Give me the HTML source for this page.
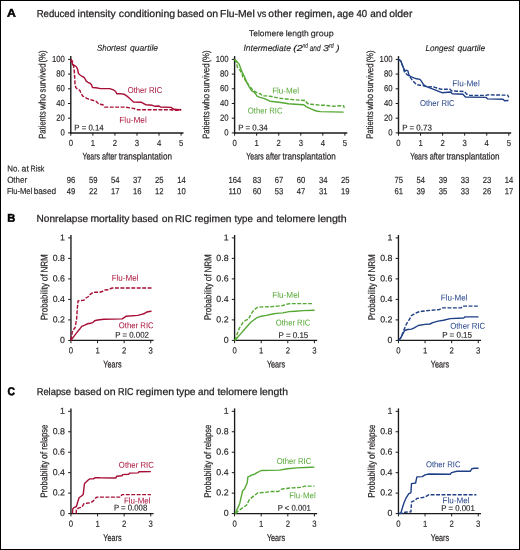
<!DOCTYPE html>
<html><head><meta charset="utf-8"><style>
html,body{margin:0;padding:0;background:#fff;}
body{width:520px;height:550px;overflow:hidden;}
svg{display:block;font-family:"Liberation Sans",sans-serif;will-change:transform;}
</style></head><body>
<svg width="520" height="550" viewBox="0 0 520 550">
<rect x="0" y="0" width="520" height="550" fill="#fff"/>
<text x="7.09" y="16.70" font-size="11.4" fill="#000" stroke="#000" stroke-width="0.5" font-weight="bold" textLength="8.84" lengthAdjust="spacingAndGlyphs" transform="rotate(0.05 11.51 16.70)">A</text>
<text x="7.28" y="221.70" font-size="11.4" fill="#000" stroke="#000" stroke-width="0.5" font-weight="bold" textLength="8.05" lengthAdjust="spacingAndGlyphs" transform="rotate(0.05 11.30 221.70)">B</text>
<text x="7.58" y="395.20" font-size="11.4" fill="#000" stroke="#000" stroke-width="0.5" font-weight="bold" textLength="7.50" lengthAdjust="spacingAndGlyphs" transform="rotate(0.05 11.33 395.20)">C</text>
<text x="36.63" y="17.10" font-size="10.1" fill="#231f20" stroke="#231f20" stroke-width="0.25" textLength="38.42" lengthAdjust="spacingAndGlyphs" transform="rotate(0.05 55.84 17.10)">Reduced</text>
<text x="77.63" y="17.10" font-size="10.1" fill="#231f20" stroke="#231f20" stroke-width="0.25" textLength="38.06" lengthAdjust="spacingAndGlyphs" transform="rotate(0.05 96.66 17.10)">intensity</text>
<text x="118.88" y="17.10" font-size="10.1" fill="#231f20" stroke="#231f20" stroke-width="0.25" textLength="56.23" lengthAdjust="spacingAndGlyphs" transform="rotate(0.05 147.00 17.10)">conditioning</text>
<text x="177.16" y="17.10" font-size="10.1" fill="#231f20" stroke="#231f20" stroke-width="0.25" textLength="26.77" lengthAdjust="spacingAndGlyphs" transform="rotate(0.05 190.55 17.10)">based</text>
<text x="206.48" y="17.10" font-size="10.1" fill="#231f20" stroke="#231f20" stroke-width="0.25" textLength="11.73" lengthAdjust="spacingAndGlyphs" transform="rotate(0.05 212.34 17.10)">on</text>
<text x="220.07" y="17.10" font-size="10.1" fill="#231f20" stroke="#231f20" stroke-width="0.25" textLength="34.65" lengthAdjust="spacingAndGlyphs" transform="rotate(0.05 237.39 17.10)">Flu-Mel</text>
<text x="257.15" y="17.10" font-size="10.1" fill="#231f20" stroke="#231f20" stroke-width="0.25" textLength="9.06" lengthAdjust="spacingAndGlyphs" transform="rotate(0.05 261.69 17.10)">vs</text>
<text x="268.39" y="17.10" font-size="10.1" fill="#231f20" stroke="#231f20" stroke-width="0.25" textLength="23.62" lengthAdjust="spacingAndGlyphs" transform="rotate(0.05 280.19 17.10)">other</text>
<text x="295.13" y="17.10" font-size="10.1" fill="#231f20" stroke="#231f20" stroke-width="0.25" textLength="40.05" lengthAdjust="spacingAndGlyphs" transform="rotate(0.05 315.16 17.10)">regimen,</text>
<text x="337.00" y="17.10" font-size="10.1" fill="#231f20" stroke="#231f20" stroke-width="0.25" textLength="16.79" lengthAdjust="spacingAndGlyphs" transform="rotate(0.05 345.39 17.10)">age</text>
<text x="356.41" y="17.10" font-size="10.1" fill="#231f20" stroke="#231f20" stroke-width="0.25" textLength="10.65" lengthAdjust="spacingAndGlyphs" transform="rotate(0.05 361.73 17.10)">40</text>
<text x="370.30" y="17.10" font-size="10.1" fill="#231f20" stroke="#231f20" stroke-width="0.25" textLength="16.69" lengthAdjust="spacingAndGlyphs" transform="rotate(0.05 378.64 17.10)">and</text>
<text x="389.18" y="17.10" font-size="10.1" fill="#231f20" stroke="#231f20" stroke-width="0.25" textLength="23.21" lengthAdjust="spacingAndGlyphs" transform="rotate(0.05 400.79 17.10)">older</text>
<text x="36.59" y="221.90" font-size="10.0" fill="#231f20" stroke="#231f20" stroke-width="0.25" textLength="51.55" lengthAdjust="spacingAndGlyphs" transform="rotate(0.05 62.37 221.90)">Nonrelapse</text>
<text x="90.43" y="221.90" font-size="10.0" fill="#231f20" stroke="#231f20" stroke-width="0.25" textLength="39.06" lengthAdjust="spacingAndGlyphs" transform="rotate(0.05 109.96 221.90)">mortality</text>
<text x="131.87" y="221.90" font-size="10.0" fill="#231f20" stroke="#231f20" stroke-width="0.25" textLength="26.35" lengthAdjust="spacingAndGlyphs" transform="rotate(0.05 145.05 221.90)">based</text>
<text x="161.89" y="221.90" font-size="10.0" fill="#231f20" stroke="#231f20" stroke-width="0.25" textLength="11.40" lengthAdjust="spacingAndGlyphs" transform="rotate(0.05 167.59 221.90)">on</text>
<text x="175.02" y="221.90" font-size="10.0" fill="#231f20" stroke="#231f20" stroke-width="0.25" textLength="16.85" lengthAdjust="spacingAndGlyphs" transform="rotate(0.05 183.44 221.90)">RIC</text>
<text x="194.43" y="221.90" font-size="10.0" fill="#231f20" stroke="#231f20" stroke-width="0.25" textLength="37.17" lengthAdjust="spacingAndGlyphs" transform="rotate(0.05 213.02 221.90)">regimen</text>
<text x="234.55" y="221.90" font-size="10.0" fill="#231f20" stroke="#231f20" stroke-width="0.25" textLength="18.39" lengthAdjust="spacingAndGlyphs" transform="rotate(0.05 243.75 221.90)">type</text>
<text x="256.41" y="221.90" font-size="10.0" fill="#231f20" stroke="#231f20" stroke-width="0.25" textLength="16.47" lengthAdjust="spacingAndGlyphs" transform="rotate(0.05 264.64 221.90)">and</text>
<text x="276.15" y="221.90" font-size="10.0" fill="#231f20" stroke="#231f20" stroke-width="0.25" textLength="39.31" lengthAdjust="spacingAndGlyphs" transform="rotate(0.05 295.81 221.90)">telomere</text>
<text x="317.81" y="221.90" font-size="10.0" fill="#231f20" stroke="#231f20" stroke-width="0.25" textLength="28.87" lengthAdjust="spacingAndGlyphs" transform="rotate(0.05 332.25 221.90)">length</text>
<text x="36.65" y="395.00" font-size="10.0" fill="#231f20" stroke="#231f20" stroke-width="0.25" textLength="34.36" lengthAdjust="spacingAndGlyphs" transform="rotate(0.05 53.83 395.00)">Relapse</text>
<text x="74.25" y="395.00" font-size="10.0" fill="#231f20" stroke="#231f20" stroke-width="0.25" textLength="27.19" lengthAdjust="spacingAndGlyphs" transform="rotate(0.05 87.85 395.00)">based</text>
<text x="103.78" y="395.00" font-size="10.0" fill="#231f20" stroke="#231f20" stroke-width="0.25" textLength="11.73" lengthAdjust="spacingAndGlyphs" transform="rotate(0.05 109.64 395.00)">on</text>
<text x="118.08" y="395.00" font-size="10.0" fill="#231f20" stroke="#231f20" stroke-width="0.25" textLength="15.56" lengthAdjust="spacingAndGlyphs" transform="rotate(0.05 125.86 395.00)">RIC</text>
<text x="135.91" y="395.00" font-size="10.0" fill="#231f20" stroke="#231f20" stroke-width="0.25" textLength="38.31" lengthAdjust="spacingAndGlyphs" transform="rotate(0.05 155.07 395.00)">regimen</text>
<text x="176.15" y="395.00" font-size="10.0" fill="#231f20" stroke="#231f20" stroke-width="0.25" textLength="19.42" lengthAdjust="spacingAndGlyphs" transform="rotate(0.05 185.85 395.00)">type</text>
<text x="198.01" y="395.00" font-size="10.0" fill="#231f20" stroke="#231f20" stroke-width="0.25" textLength="16.47" lengthAdjust="spacingAndGlyphs" transform="rotate(0.05 206.24 395.00)">and</text>
<text x="217.45" y="395.00" font-size="10.0" fill="#231f20" stroke="#231f20" stroke-width="0.25" textLength="40.03" lengthAdjust="spacingAndGlyphs" transform="rotate(0.05 237.46 395.00)">telomere</text>
<text x="259.73" y="395.00" font-size="10.0" fill="#231f20" stroke="#231f20" stroke-width="0.25" textLength="28.24" lengthAdjust="spacingAndGlyphs" transform="rotate(0.05 273.85 395.00)">length</text>
<text x="249.03" y="36.20" font-size="8.6" fill="#231f20" stroke="#231f20" stroke-width="0.15" textLength="34.67" lengthAdjust="spacingAndGlyphs" transform="rotate(0.05 266.37 36.20)">Telomere</text>
<text x="285.65" y="36.20" font-size="8.6" fill="#231f20" stroke="#231f20" stroke-width="0.15" textLength="23.20" lengthAdjust="spacingAndGlyphs" transform="rotate(0.05 297.25 36.20)">length</text>
<text x="310.84" y="36.20" font-size="8.6" fill="#231f20" stroke="#231f20" stroke-width="0.15" textLength="22.84" lengthAdjust="spacingAndGlyphs" transform="rotate(0.05 322.26 36.20)">group</text>
<text x="96.96" y="50.80" font-size="8.6" fill="#231f20" stroke="#231f20" stroke-width="0.15" font-style="italic" textLength="29.55" lengthAdjust="spacingAndGlyphs" transform="rotate(0.05 111.74 50.80)">Shortest</text>
<text x="130.10" y="50.80" font-size="8.6" fill="#231f20" stroke="#231f20" stroke-width="0.15" font-style="italic" textLength="28.00" lengthAdjust="spacingAndGlyphs" transform="rotate(0.05 144.10 50.80)">quartile</text>
<text x="425.56" y="51.00" font-size="8.6" fill="#231f20" stroke="#231f20" stroke-width="0.15" font-style="italic" textLength="28.75" lengthAdjust="spacingAndGlyphs" transform="rotate(0.05 439.93 51.00)">Longest</text>
<text x="457.50" y="51.00" font-size="8.6" fill="#231f20" stroke="#231f20" stroke-width="0.15" font-style="italic" textLength="27.69" lengthAdjust="spacingAndGlyphs" transform="rotate(0.05 471.35 51.00)">quartile</text>
<text x="243.46" y="50.90" font-size="8.6" fill="#231f20" stroke="#231f20" stroke-width="0.15" font-style="italic" textLength="47.43" lengthAdjust="spacingAndGlyphs" transform="rotate(0.05 267.17 50.90)">Intermediate</text>
<text x="293.22" y="50.90" font-size="8.6" fill="#231f20" stroke="#231f20" stroke-width="0.15" font-style="italic" textLength="9.43" lengthAdjust="spacingAndGlyphs" transform="rotate(0.05 297.94 50.90)">(2</text>
<text x="309.67" y="50.90" font-size="8.6" fill="#231f20" stroke="#231f20" stroke-width="0.15" font-style="italic" textLength="10.86" lengthAdjust="spacingAndGlyphs" transform="rotate(0.05 315.10 50.90)">and</text>
<text x="323.03" y="50.90" font-size="8.6" fill="#231f20" stroke="#231f20" stroke-width="0.15" font-style="italic" textLength="6.04" lengthAdjust="spacingAndGlyphs" transform="rotate(0.05 326.05 50.90)">3</text>
<text x="336.15" y="50.90" font-size="8.6" fill="#231f20" stroke="#231f20" stroke-width="0.15" font-style="italic" textLength="3.33" lengthAdjust="spacingAndGlyphs" transform="rotate(0.05 337.82 50.90)">)</text>
<text x="302.53" y="47.80" font-size="6.4" fill="#231f20" stroke="#231f20" stroke-width="0.15" font-style="italic" textLength="5.24" lengthAdjust="spacingAndGlyphs" transform="rotate(0.05 305.15 47.80)">nd</text>
<text x="329.12" y="47.80" font-size="6.4" fill="#231f20" stroke="#231f20" stroke-width="0.15" font-style="italic" textLength="4.62" lengthAdjust="spacingAndGlyphs" transform="rotate(0.05 331.43 47.80)">rd</text>
<line x1="70.80" y1="56.10" x2="70.80" y2="133.50" stroke="#1a1a1a" stroke-width="1.4"/>
<line x1="68.00" y1="59.40" x2="70.80" y2="59.40" stroke="#1a1a1a" stroke-width="1.0"/>
<text x="51.88" y="61.90" font-size="8.8" fill="#231f20" stroke="#231f20" stroke-width="0.15" textLength="12.92" lengthAdjust="spacingAndGlyphs" transform="rotate(0.05 58.34 61.90)">100</text>
<line x1="68.00" y1="74.10" x2="70.80" y2="74.10" stroke="#1a1a1a" stroke-width="1.0"/>
<text x="56.19" y="76.60" font-size="8.8" fill="#231f20" stroke="#231f20" stroke-width="0.15" textLength="8.61" lengthAdjust="spacingAndGlyphs" transform="rotate(0.05 60.49 76.60)">80</text>
<line x1="68.00" y1="88.80" x2="70.80" y2="88.80" stroke="#1a1a1a" stroke-width="1.0"/>
<text x="56.19" y="91.30" font-size="8.8" fill="#231f20" stroke="#231f20" stroke-width="0.15" textLength="8.61" lengthAdjust="spacingAndGlyphs" transform="rotate(0.05 60.49 91.30)">60</text>
<line x1="68.00" y1="103.50" x2="70.80" y2="103.50" stroke="#1a1a1a" stroke-width="1.0"/>
<text x="56.19" y="106.00" font-size="8.8" fill="#231f20" stroke="#231f20" stroke-width="0.15" textLength="8.61" lengthAdjust="spacingAndGlyphs" transform="rotate(0.05 60.49 106.00)">40</text>
<line x1="68.00" y1="118.20" x2="70.80" y2="118.20" stroke="#1a1a1a" stroke-width="1.0"/>
<text x="56.19" y="120.70" font-size="8.8" fill="#231f20" stroke="#231f20" stroke-width="0.15" textLength="8.61" lengthAdjust="spacingAndGlyphs" transform="rotate(0.05 60.49 120.70)">20</text>
<line x1="68.00" y1="132.90" x2="70.80" y2="132.90" stroke="#1a1a1a" stroke-width="1.0"/>
<text x="60.49" y="135.40" font-size="8.8" fill="#231f20" stroke="#231f20" stroke-width="0.15" textLength="4.31" lengthAdjust="spacingAndGlyphs" transform="rotate(0.05 62.65 135.40)">0</text>
<line x1="70.20" y1="132.90" x2="183.50" y2="132.90" stroke="#1a1a1a" stroke-width="1.5"/>
<line x1="70.80" y1="132.90" x2="70.80" y2="135.70" stroke="#1a1a1a" stroke-width="1.0"/>
<text x="68.65" y="145.90" font-size="8.8" fill="#231f20" stroke="#231f20" stroke-width="0.15" textLength="4.31" lengthAdjust="spacingAndGlyphs" transform="rotate(0.05 70.80 145.90)">0</text>
<line x1="92.86" y1="132.90" x2="92.86" y2="135.70" stroke="#1a1a1a" stroke-width="1.0"/>
<text x="90.71" y="145.90" font-size="8.8" fill="#231f20" stroke="#231f20" stroke-width="0.15" textLength="4.31" lengthAdjust="spacingAndGlyphs" transform="rotate(0.05 92.86 145.90)">1</text>
<line x1="114.92" y1="132.90" x2="114.92" y2="135.70" stroke="#1a1a1a" stroke-width="1.0"/>
<text x="112.77" y="145.90" font-size="8.8" fill="#231f20" stroke="#231f20" stroke-width="0.15" textLength="4.31" lengthAdjust="spacingAndGlyphs" transform="rotate(0.05 114.92 145.90)">2</text>
<line x1="136.98" y1="132.90" x2="136.98" y2="135.70" stroke="#1a1a1a" stroke-width="1.0"/>
<text x="134.83" y="145.90" font-size="8.8" fill="#231f20" stroke="#231f20" stroke-width="0.15" textLength="4.31" lengthAdjust="spacingAndGlyphs" transform="rotate(0.05 136.98 145.90)">3</text>
<line x1="159.04" y1="132.90" x2="159.04" y2="135.70" stroke="#1a1a1a" stroke-width="1.0"/>
<text x="156.89" y="145.90" font-size="8.8" fill="#231f20" stroke="#231f20" stroke-width="0.15" textLength="4.31" lengthAdjust="spacingAndGlyphs" transform="rotate(0.05 159.04 145.90)">4</text>
<line x1="181.10" y1="132.90" x2="181.10" y2="135.70" stroke="#1a1a1a" stroke-width="1.0"/>
<text x="178.95" y="145.90" font-size="8.8" fill="#231f20" stroke="#231f20" stroke-width="0.15" textLength="4.31" lengthAdjust="spacingAndGlyphs" transform="rotate(0.05 181.10 145.90)">5</text>
<text x="82.53" y="159.60" font-size="9.6" fill="#231f20" stroke="#231f20" stroke-width="0.2" textLength="17.42" lengthAdjust="spacingAndGlyphs" transform="rotate(0.05 91.24 159.60)">Years</text>
<text x="102.01" y="159.60" font-size="9.6" fill="#231f20" stroke="#231f20" stroke-width="0.2" textLength="14.71" lengthAdjust="spacingAndGlyphs" transform="rotate(0.05 109.36 159.60)">after</text>
<text x="118.68" y="159.60" font-size="9.6" fill="#231f20" stroke="#231f20" stroke-width="0.2" textLength="53.25" lengthAdjust="spacingAndGlyphs" transform="rotate(0.05 145.30 159.60)">transplantation</text>
<g transform="translate(45.50,0) rotate(-89.95)"><text x="-138.71" y="0" font-size="9.6" fill="#231f20" stroke="#231f20" stroke-width="0.2" textLength="27.46" lengthAdjust="spacingAndGlyphs">Patients</text><text x="-110.10" y="0" font-size="9.6" fill="#231f20" stroke="#231f20" stroke-width="0.2" textLength="16.25" lengthAdjust="spacingAndGlyphs">who</text><text x="-92.53" y="0" font-size="9.6" fill="#231f20" stroke="#231f20" stroke-width="0.2" textLength="29.03" lengthAdjust="spacingAndGlyphs">survived</text><text x="-62.57" y="0" font-size="9.6" fill="#231f20" stroke="#231f20" stroke-width="0.2" textLength="12.07" lengthAdjust="spacingAndGlyphs">(%)</text></g>
<line x1="234.60" y1="56.10" x2="234.60" y2="133.50" stroke="#1a1a1a" stroke-width="1.4"/>
<line x1="231.80" y1="59.40" x2="234.60" y2="59.40" stroke="#1a1a1a" stroke-width="1.0"/>
<text x="215.68" y="61.90" font-size="8.8" fill="#231f20" stroke="#231f20" stroke-width="0.15" textLength="12.92" lengthAdjust="spacingAndGlyphs" transform="rotate(0.05 222.14 61.90)">100</text>
<line x1="231.80" y1="74.10" x2="234.60" y2="74.10" stroke="#1a1a1a" stroke-width="1.0"/>
<text x="219.99" y="76.60" font-size="8.8" fill="#231f20" stroke="#231f20" stroke-width="0.15" textLength="8.61" lengthAdjust="spacingAndGlyphs" transform="rotate(0.05 224.29 76.60)">80</text>
<line x1="231.80" y1="88.80" x2="234.60" y2="88.80" stroke="#1a1a1a" stroke-width="1.0"/>
<text x="219.99" y="91.30" font-size="8.8" fill="#231f20" stroke="#231f20" stroke-width="0.15" textLength="8.61" lengthAdjust="spacingAndGlyphs" transform="rotate(0.05 224.29 91.30)">60</text>
<line x1="231.80" y1="103.50" x2="234.60" y2="103.50" stroke="#1a1a1a" stroke-width="1.0"/>
<text x="219.99" y="106.00" font-size="8.8" fill="#231f20" stroke="#231f20" stroke-width="0.15" textLength="8.61" lengthAdjust="spacingAndGlyphs" transform="rotate(0.05 224.29 106.00)">40</text>
<line x1="231.80" y1="118.20" x2="234.60" y2="118.20" stroke="#1a1a1a" stroke-width="1.0"/>
<text x="219.99" y="120.70" font-size="8.8" fill="#231f20" stroke="#231f20" stroke-width="0.15" textLength="8.61" lengthAdjust="spacingAndGlyphs" transform="rotate(0.05 224.29 120.70)">20</text>
<line x1="231.80" y1="132.90" x2="234.60" y2="132.90" stroke="#1a1a1a" stroke-width="1.0"/>
<text x="224.29" y="135.40" font-size="8.8" fill="#231f20" stroke="#231f20" stroke-width="0.15" textLength="4.31" lengthAdjust="spacingAndGlyphs" transform="rotate(0.05 226.45 135.40)">0</text>
<line x1="234.00" y1="132.90" x2="347.30" y2="132.90" stroke="#1a1a1a" stroke-width="1.5"/>
<line x1="234.60" y1="132.90" x2="234.60" y2="135.70" stroke="#1a1a1a" stroke-width="1.0"/>
<text x="232.45" y="145.90" font-size="8.8" fill="#231f20" stroke="#231f20" stroke-width="0.15" textLength="4.31" lengthAdjust="spacingAndGlyphs" transform="rotate(0.05 234.60 145.90)">0</text>
<line x1="256.66" y1="132.90" x2="256.66" y2="135.70" stroke="#1a1a1a" stroke-width="1.0"/>
<text x="254.51" y="145.90" font-size="8.8" fill="#231f20" stroke="#231f20" stroke-width="0.15" textLength="4.31" lengthAdjust="spacingAndGlyphs" transform="rotate(0.05 256.66 145.90)">1</text>
<line x1="278.72" y1="132.90" x2="278.72" y2="135.70" stroke="#1a1a1a" stroke-width="1.0"/>
<text x="276.57" y="145.90" font-size="8.8" fill="#231f20" stroke="#231f20" stroke-width="0.15" textLength="4.31" lengthAdjust="spacingAndGlyphs" transform="rotate(0.05 278.72 145.90)">2</text>
<line x1="300.78" y1="132.90" x2="300.78" y2="135.70" stroke="#1a1a1a" stroke-width="1.0"/>
<text x="298.63" y="145.90" font-size="8.8" fill="#231f20" stroke="#231f20" stroke-width="0.15" textLength="4.31" lengthAdjust="spacingAndGlyphs" transform="rotate(0.05 300.78 145.90)">3</text>
<line x1="322.84" y1="132.90" x2="322.84" y2="135.70" stroke="#1a1a1a" stroke-width="1.0"/>
<text x="320.69" y="145.90" font-size="8.8" fill="#231f20" stroke="#231f20" stroke-width="0.15" textLength="4.31" lengthAdjust="spacingAndGlyphs" transform="rotate(0.05 322.84 145.90)">4</text>
<line x1="344.90" y1="132.90" x2="344.90" y2="135.70" stroke="#1a1a1a" stroke-width="1.0"/>
<text x="342.75" y="145.90" font-size="8.8" fill="#231f20" stroke="#231f20" stroke-width="0.15" textLength="4.31" lengthAdjust="spacingAndGlyphs" transform="rotate(0.05 344.90 145.90)">5</text>
<text x="246.33" y="159.60" font-size="9.6" fill="#231f20" stroke="#231f20" stroke-width="0.2" textLength="17.42" lengthAdjust="spacingAndGlyphs" transform="rotate(0.05 255.04 159.60)">Years</text>
<text x="265.81" y="159.60" font-size="9.6" fill="#231f20" stroke="#231f20" stroke-width="0.2" textLength="14.71" lengthAdjust="spacingAndGlyphs" transform="rotate(0.05 273.16 159.60)">after</text>
<text x="282.48" y="159.60" font-size="9.6" fill="#231f20" stroke="#231f20" stroke-width="0.2" textLength="53.25" lengthAdjust="spacingAndGlyphs" transform="rotate(0.05 309.10 159.60)">transplantation</text>
<g transform="translate(209.30,0) rotate(-89.95)"><text x="-138.71" y="0" font-size="9.6" fill="#231f20" stroke="#231f20" stroke-width="0.2" textLength="27.46" lengthAdjust="spacingAndGlyphs">Patients</text><text x="-110.10" y="0" font-size="9.6" fill="#231f20" stroke="#231f20" stroke-width="0.2" textLength="16.25" lengthAdjust="spacingAndGlyphs">who</text><text x="-92.53" y="0" font-size="9.6" fill="#231f20" stroke="#231f20" stroke-width="0.2" textLength="29.03" lengthAdjust="spacingAndGlyphs">survived</text><text x="-62.57" y="0" font-size="9.6" fill="#231f20" stroke="#231f20" stroke-width="0.2" textLength="12.07" lengthAdjust="spacingAndGlyphs">(%)</text></g>
<line x1="398.50" y1="56.10" x2="398.50" y2="133.50" stroke="#1a1a1a" stroke-width="1.4"/>
<line x1="395.70" y1="59.40" x2="398.50" y2="59.40" stroke="#1a1a1a" stroke-width="1.0"/>
<text x="379.58" y="61.90" font-size="8.8" fill="#231f20" stroke="#231f20" stroke-width="0.15" textLength="12.92" lengthAdjust="spacingAndGlyphs" transform="rotate(0.05 386.04 61.90)">100</text>
<line x1="395.70" y1="74.10" x2="398.50" y2="74.10" stroke="#1a1a1a" stroke-width="1.0"/>
<text x="383.89" y="76.60" font-size="8.8" fill="#231f20" stroke="#231f20" stroke-width="0.15" textLength="8.61" lengthAdjust="spacingAndGlyphs" transform="rotate(0.05 388.19 76.60)">80</text>
<line x1="395.70" y1="88.80" x2="398.50" y2="88.80" stroke="#1a1a1a" stroke-width="1.0"/>
<text x="383.89" y="91.30" font-size="8.8" fill="#231f20" stroke="#231f20" stroke-width="0.15" textLength="8.61" lengthAdjust="spacingAndGlyphs" transform="rotate(0.05 388.19 91.30)">60</text>
<line x1="395.70" y1="103.50" x2="398.50" y2="103.50" stroke="#1a1a1a" stroke-width="1.0"/>
<text x="383.89" y="106.00" font-size="8.8" fill="#231f20" stroke="#231f20" stroke-width="0.15" textLength="8.61" lengthAdjust="spacingAndGlyphs" transform="rotate(0.05 388.19 106.00)">40</text>
<line x1="395.70" y1="118.20" x2="398.50" y2="118.20" stroke="#1a1a1a" stroke-width="1.0"/>
<text x="383.89" y="120.70" font-size="8.8" fill="#231f20" stroke="#231f20" stroke-width="0.15" textLength="8.61" lengthAdjust="spacingAndGlyphs" transform="rotate(0.05 388.19 120.70)">20</text>
<line x1="395.70" y1="132.90" x2="398.50" y2="132.90" stroke="#1a1a1a" stroke-width="1.0"/>
<text x="388.19" y="135.40" font-size="8.8" fill="#231f20" stroke="#231f20" stroke-width="0.15" textLength="4.31" lengthAdjust="spacingAndGlyphs" transform="rotate(0.05 390.35 135.40)">0</text>
<line x1="397.90" y1="132.90" x2="511.20" y2="132.90" stroke="#1a1a1a" stroke-width="1.5"/>
<line x1="398.50" y1="132.90" x2="398.50" y2="135.70" stroke="#1a1a1a" stroke-width="1.0"/>
<text x="396.35" y="145.90" font-size="8.8" fill="#231f20" stroke="#231f20" stroke-width="0.15" textLength="4.31" lengthAdjust="spacingAndGlyphs" transform="rotate(0.05 398.50 145.90)">0</text>
<line x1="420.56" y1="132.90" x2="420.56" y2="135.70" stroke="#1a1a1a" stroke-width="1.0"/>
<text x="418.41" y="145.90" font-size="8.8" fill="#231f20" stroke="#231f20" stroke-width="0.15" textLength="4.31" lengthAdjust="spacingAndGlyphs" transform="rotate(0.05 420.56 145.90)">1</text>
<line x1="442.62" y1="132.90" x2="442.62" y2="135.70" stroke="#1a1a1a" stroke-width="1.0"/>
<text x="440.47" y="145.90" font-size="8.8" fill="#231f20" stroke="#231f20" stroke-width="0.15" textLength="4.31" lengthAdjust="spacingAndGlyphs" transform="rotate(0.05 442.62 145.90)">2</text>
<line x1="464.68" y1="132.90" x2="464.68" y2="135.70" stroke="#1a1a1a" stroke-width="1.0"/>
<text x="462.53" y="145.90" font-size="8.8" fill="#231f20" stroke="#231f20" stroke-width="0.15" textLength="4.31" lengthAdjust="spacingAndGlyphs" transform="rotate(0.05 464.68 145.90)">3</text>
<line x1="486.74" y1="132.90" x2="486.74" y2="135.70" stroke="#1a1a1a" stroke-width="1.0"/>
<text x="484.59" y="145.90" font-size="8.8" fill="#231f20" stroke="#231f20" stroke-width="0.15" textLength="4.31" lengthAdjust="spacingAndGlyphs" transform="rotate(0.05 486.74 145.90)">4</text>
<line x1="508.80" y1="132.90" x2="508.80" y2="135.70" stroke="#1a1a1a" stroke-width="1.0"/>
<text x="506.65" y="145.90" font-size="8.8" fill="#231f20" stroke="#231f20" stroke-width="0.15" textLength="4.31" lengthAdjust="spacingAndGlyphs" transform="rotate(0.05 508.80 145.90)">5</text>
<text x="410.23" y="159.60" font-size="9.6" fill="#231f20" stroke="#231f20" stroke-width="0.2" textLength="17.42" lengthAdjust="spacingAndGlyphs" transform="rotate(0.05 418.94 159.60)">Years</text>
<text x="429.71" y="159.60" font-size="9.6" fill="#231f20" stroke="#231f20" stroke-width="0.2" textLength="14.71" lengthAdjust="spacingAndGlyphs" transform="rotate(0.05 437.06 159.60)">after</text>
<text x="446.38" y="159.60" font-size="9.6" fill="#231f20" stroke="#231f20" stroke-width="0.2" textLength="53.25" lengthAdjust="spacingAndGlyphs" transform="rotate(0.05 473.00 159.60)">transplantation</text>
<g transform="translate(373.20,0) rotate(-89.95)"><text x="-138.71" y="0" font-size="9.6" fill="#231f20" stroke="#231f20" stroke-width="0.2" textLength="27.46" lengthAdjust="spacingAndGlyphs">Patients</text><text x="-110.10" y="0" font-size="9.6" fill="#231f20" stroke="#231f20" stroke-width="0.2" textLength="16.25" lengthAdjust="spacingAndGlyphs">who</text><text x="-92.53" y="0" font-size="9.6" fill="#231f20" stroke="#231f20" stroke-width="0.2" textLength="29.03" lengthAdjust="spacingAndGlyphs">survived</text><text x="-62.57" y="0" font-size="9.6" fill="#231f20" stroke="#231f20" stroke-width="0.2" textLength="12.07" lengthAdjust="spacingAndGlyphs">(%)</text></g>
<text x="74.37" y="130.40" font-size="8.4" fill="#231f20" stroke="#231f20" stroke-width="0.15" textLength="29.36" lengthAdjust="spacingAndGlyphs" transform="rotate(0.05 89.05 130.40)">P = 0.14</text>
<text x="238.17" y="130.40" font-size="8.4" fill="#231f20" stroke="#231f20" stroke-width="0.15" textLength="29.57" lengthAdjust="spacingAndGlyphs" transform="rotate(0.05 252.95 130.40)">P = 0.34</text>
<text x="402.16" y="130.40" font-size="8.4" fill="#231f20" stroke="#231f20" stroke-width="0.15" textLength="29.65" lengthAdjust="spacingAndGlyphs" transform="rotate(0.05 416.99 130.40)">P = 0.73</text>
<text x="127.75" y="93.10" font-size="8.5" fill="#a80e36" textLength="34.52" lengthAdjust="spacingAndGlyphs" transform="rotate(0.05 145.02 93.10)">Other RIC</text>
<text x="119.34" y="122.70" font-size="8.5" fill="#a80e36" textLength="27.42" lengthAdjust="spacingAndGlyphs" transform="rotate(0.05 133.05 122.70)">Flu-Mel</text>
<text x="272.15" y="93.50" font-size="8.5" fill="#55a834" textLength="26.90" lengthAdjust="spacingAndGlyphs" transform="rotate(0.05 285.60 93.50)">Flu-Mel</text>
<text x="247.85" y="113.50" font-size="8.5" fill="#55a834" textLength="34.73" lengthAdjust="spacingAndGlyphs" transform="rotate(0.05 265.22 113.50)">Other RIC</text>
<text x="452.34" y="86.20" font-size="8.5" fill="#1f3f86" textLength="27.42" lengthAdjust="spacingAndGlyphs" transform="rotate(0.05 466.05 86.20)">Flu-Mel</text>
<text x="419.95" y="106.00" font-size="8.5" fill="#1f3f86" textLength="34.73" lengthAdjust="spacingAndGlyphs" transform="rotate(0.05 437.32 106.00)">Other RIC</text>
<path d="M70.8,59.4 L72.9,65.0 L74.7,65.5 L76.4,66.7 L77.5,69.0 L78.5,73.6 L79.8,74.8 L82.2,76.5 L83.9,77.1 L85.0,78.8 L86.2,81.1 L87.9,82.3 L90.2,83.4 L91.4,84.6 L92.5,87.5 L96.0,87.7 L100.6,88.6 L109.8,88.6 L113.3,89.8 L115.6,91.5 L116.8,93.8 L120.0,93.6 L124.0,94.2 L128.0,96.9 L130.8,99.6 L133.5,102.0 L141.5,102.3 L145.6,104.7 L152.3,105.3 L155.0,106.3 L159.0,106.0 L160.4,107.0 L171.0,107.4 L173.8,109.3 L179.2,109.7 L181.2,109.4" fill="none" stroke="#a80e36" stroke-width="1.4" stroke-linejoin="round"/>
<path d="M70.8,59.4 L72.3,60.9 L73.5,65.5 L74.1,69.0 L74.7,77.1 L75.0,84.0 L75.8,87.5 L77.5,89.2 L79.8,90.3 L81.0,93.2 L82.7,96.1 L84.5,96.9 L86.8,98.4 L89.1,99.3 L92.5,100.2 L96.0,101.3 L97.7,103.0 L99.5,104.2 L102.9,104.8 L104.7,107.1 L124.8,107.1 L133.5,108.4 L137.5,109.7 L171.0,109.7 L173.8,110.4 L181.2,110.4" fill="none" stroke="#a80e36" stroke-width="1.4" stroke-linejoin="round" stroke-dasharray="3.9 1.55"/>
<path d="M234.7,59.3 L239.1,64.1 L241.8,71.4 L244.5,76.8 L246.4,81.4 L249.1,86.8 L251.8,90.9 L254.5,92.3 L257.3,96.4 L260.0,97.3 L264.5,98.6 L270.0,101.2 L279.2,102.3 L288.5,103.8 L295.0,104.2 L303.5,104.7 L306.6,106.8 L310.9,108.9 L316.2,111.0 L320.4,111.6 L343.7,112.1" fill="none" stroke="#55a834" stroke-width="1.4" stroke-linejoin="round"/>
<path d="M234.7,59.3 L236.8,64.1 L237.3,66.8 L238.6,69.1 L240.0,70.0 L240.9,72.3 L242.3,74.5 L242.7,76.8 L244.5,78.6 L246.8,83.2 L248.2,84.1 L249.1,86.4 L250.9,87.7 L252.3,89.5 L254.5,91.4 L256.4,92.3 L258.2,93.2 L260.0,93.6 L262.7,95.9 L266.4,95.9 L270.0,96.2 L279.2,98.2 L288.5,99.2 L296.6,99.9 L305.6,100.5 L306.6,102.6 L308.8,104.2 L316.2,104.7 L320.4,105.2 L324.6,105.2 L328.9,105.8 L334.2,106.3 L340.5,105.8 L343.7,105.8 L344.2,107.9" fill="none" stroke="#55a834" stroke-width="1.4" stroke-linejoin="round" stroke-dasharray="3.9 1.55"/>
<path d="M398.5,59.3 L400.4,60.4 L401.5,62.7 L403.3,67.3 L405.0,71.3 L406.2,70.2 L407.9,70.8 L409.0,75.4 L410.8,76.5 L413.1,77.7 L416.5,78.8 L420.0,79.4 L421.7,81.7 L423.5,84.6 L425.8,86.3 L430.4,88.1 L436.2,90.4 L441.9,92.7 L450.8,92.0 L452.3,93.8 L463.0,94.3 L465.4,97.0 L486.2,97.4 L487.7,98.9 L503.0,99.2 L504.6,100.8 L508.5,100.5" fill="none" stroke="#1f3f86" stroke-width="1.4" stroke-linejoin="round"/>
<path d="M398.5,59.3 L401.0,61.5 L402.7,66.2 L404.4,71.9 L406.7,74.2 L409.6,76.5 L411.3,78.8 L413.1,81.2 L416.5,84.6 L420.0,85.2 L423.5,85.8 L428.1,86.9 L432.7,86.7 L437.3,88.1 L440.8,89.2 L450.0,89.2 L451.5,90.8 L464.6,91.6 L466.5,94.0 L470.0,95.4 L486.2,95.4 L487.7,94.8 L507.7,95.2 L508.8,97.4" fill="none" stroke="#1f3f86" stroke-width="1.4" stroke-linejoin="round" stroke-dasharray="3.9 1.55"/>
<text x="7.36" y="171.60" font-size="8.7" fill="#231f20" stroke="#231f20" stroke-width="0.15" textLength="12.36" lengthAdjust="spacingAndGlyphs" transform="rotate(0.05 13.54 171.60)">No.</text>
<text x="21.55" y="171.60" font-size="8.7" fill="#231f20" stroke="#231f20" stroke-width="0.15" textLength="7.33" lengthAdjust="spacingAndGlyphs" transform="rotate(0.05 25.21 171.60)">at</text>
<text x="30.53" y="171.60" font-size="8.7" fill="#231f20" stroke="#231f20" stroke-width="0.15" textLength="13.87" lengthAdjust="spacingAndGlyphs" transform="rotate(0.05 37.46 171.60)">Risk</text>
<text x="7.14" y="182.80" font-size="8.7" fill="#231f20" stroke="#231f20" stroke-width="0.15" textLength="20.09" lengthAdjust="spacingAndGlyphs" transform="rotate(0.05 17.18 182.80)">Other</text>
<text x="6.89" y="194.00" font-size="8.7" fill="#231f20" stroke="#231f20" stroke-width="0.15" textLength="25.33" lengthAdjust="spacingAndGlyphs" transform="rotate(0.05 19.56 194.00)">Flu-Mel</text>
<text x="33.66" y="194.00" font-size="8.7" fill="#231f20" stroke="#231f20" stroke-width="0.15" textLength="22.57" lengthAdjust="spacingAndGlyphs" transform="rotate(0.05 44.95 194.00)">based</text>
<text x="66.84" y="183.10" font-size="8.9" fill="#231f20" stroke="#231f20" stroke-width="0.15" textLength="8.51" lengthAdjust="spacingAndGlyphs" transform="rotate(0.05 71.10 183.10)">96</text>
<text x="66.84" y="194.20" font-size="8.9" fill="#231f20" stroke="#231f20" stroke-width="0.15" textLength="8.51" lengthAdjust="spacingAndGlyphs" transform="rotate(0.05 71.10 194.20)">49</text>
<text x="88.90" y="183.10" font-size="8.9" fill="#231f20" stroke="#231f20" stroke-width="0.15" textLength="8.51" lengthAdjust="spacingAndGlyphs" transform="rotate(0.05 93.16 183.10)">59</text>
<text x="88.90" y="194.20" font-size="8.9" fill="#231f20" stroke="#231f20" stroke-width="0.15" textLength="8.51" lengthAdjust="spacingAndGlyphs" transform="rotate(0.05 93.16 194.20)">22</text>
<text x="110.96" y="183.10" font-size="8.9" fill="#231f20" stroke="#231f20" stroke-width="0.15" textLength="8.51" lengthAdjust="spacingAndGlyphs" transform="rotate(0.05 115.22 183.10)">54</text>
<text x="110.96" y="194.20" font-size="8.9" fill="#231f20" stroke="#231f20" stroke-width="0.15" textLength="8.51" lengthAdjust="spacingAndGlyphs" transform="rotate(0.05 115.22 194.20)">17</text>
<text x="133.02" y="183.10" font-size="8.9" fill="#231f20" stroke="#231f20" stroke-width="0.15" textLength="8.51" lengthAdjust="spacingAndGlyphs" transform="rotate(0.05 137.28 183.10)">37</text>
<text x="133.02" y="194.20" font-size="8.9" fill="#231f20" stroke="#231f20" stroke-width="0.15" textLength="8.51" lengthAdjust="spacingAndGlyphs" transform="rotate(0.05 137.28 194.20)">16</text>
<text x="155.08" y="183.10" font-size="8.9" fill="#231f20" stroke="#231f20" stroke-width="0.15" textLength="8.51" lengthAdjust="spacingAndGlyphs" transform="rotate(0.05 159.34 183.10)">25</text>
<text x="155.08" y="194.20" font-size="8.9" fill="#231f20" stroke="#231f20" stroke-width="0.15" textLength="8.51" lengthAdjust="spacingAndGlyphs" transform="rotate(0.05 159.34 194.20)">12</text>
<text x="177.14" y="183.10" font-size="8.9" fill="#231f20" stroke="#231f20" stroke-width="0.15" textLength="8.51" lengthAdjust="spacingAndGlyphs" transform="rotate(0.05 181.40 183.10)">14</text>
<text x="177.14" y="194.20" font-size="8.9" fill="#231f20" stroke="#231f20" stroke-width="0.15" textLength="8.51" lengthAdjust="spacingAndGlyphs" transform="rotate(0.05 181.40 194.20)">10</text>
<text x="228.52" y="183.10" font-size="8.9" fill="#231f20" stroke="#231f20" stroke-width="0.15" textLength="12.77" lengthAdjust="spacingAndGlyphs" transform="rotate(0.05 234.90 183.10)">164</text>
<text x="228.52" y="194.20" font-size="8.9" fill="#231f20" stroke="#231f20" stroke-width="0.15" textLength="12.77" lengthAdjust="spacingAndGlyphs" transform="rotate(0.05 234.90 194.20)">110</text>
<text x="252.70" y="183.10" font-size="8.9" fill="#231f20" stroke="#231f20" stroke-width="0.15" textLength="8.51" lengthAdjust="spacingAndGlyphs" transform="rotate(0.05 256.96 183.10)">83</text>
<text x="252.70" y="194.20" font-size="8.9" fill="#231f20" stroke="#231f20" stroke-width="0.15" textLength="8.51" lengthAdjust="spacingAndGlyphs" transform="rotate(0.05 256.96 194.20)">60</text>
<text x="274.76" y="183.10" font-size="8.9" fill="#231f20" stroke="#231f20" stroke-width="0.15" textLength="8.51" lengthAdjust="spacingAndGlyphs" transform="rotate(0.05 279.02 183.10)">67</text>
<text x="274.76" y="194.20" font-size="8.9" fill="#231f20" stroke="#231f20" stroke-width="0.15" textLength="8.51" lengthAdjust="spacingAndGlyphs" transform="rotate(0.05 279.02 194.20)">53</text>
<text x="296.82" y="183.10" font-size="8.9" fill="#231f20" stroke="#231f20" stroke-width="0.15" textLength="8.51" lengthAdjust="spacingAndGlyphs" transform="rotate(0.05 301.08 183.10)">60</text>
<text x="296.82" y="194.20" font-size="8.9" fill="#231f20" stroke="#231f20" stroke-width="0.15" textLength="8.51" lengthAdjust="spacingAndGlyphs" transform="rotate(0.05 301.08 194.20)">47</text>
<text x="318.88" y="183.10" font-size="8.9" fill="#231f20" stroke="#231f20" stroke-width="0.15" textLength="8.51" lengthAdjust="spacingAndGlyphs" transform="rotate(0.05 323.14 183.10)">34</text>
<text x="318.88" y="194.20" font-size="8.9" fill="#231f20" stroke="#231f20" stroke-width="0.15" textLength="8.51" lengthAdjust="spacingAndGlyphs" transform="rotate(0.05 323.14 194.20)">31</text>
<text x="340.94" y="183.10" font-size="8.9" fill="#231f20" stroke="#231f20" stroke-width="0.15" textLength="8.51" lengthAdjust="spacingAndGlyphs" transform="rotate(0.05 345.20 183.10)">25</text>
<text x="340.94" y="194.20" font-size="8.9" fill="#231f20" stroke="#231f20" stroke-width="0.15" textLength="8.51" lengthAdjust="spacingAndGlyphs" transform="rotate(0.05 345.20 194.20)">19</text>
<text x="394.54" y="183.10" font-size="8.9" fill="#231f20" stroke="#231f20" stroke-width="0.15" textLength="8.51" lengthAdjust="spacingAndGlyphs" transform="rotate(0.05 398.80 183.10)">75</text>
<text x="394.54" y="194.20" font-size="8.9" fill="#231f20" stroke="#231f20" stroke-width="0.15" textLength="8.51" lengthAdjust="spacingAndGlyphs" transform="rotate(0.05 398.80 194.20)">61</text>
<text x="416.60" y="183.10" font-size="8.9" fill="#231f20" stroke="#231f20" stroke-width="0.15" textLength="8.51" lengthAdjust="spacingAndGlyphs" transform="rotate(0.05 420.86 183.10)">54</text>
<text x="416.60" y="194.20" font-size="8.9" fill="#231f20" stroke="#231f20" stroke-width="0.15" textLength="8.51" lengthAdjust="spacingAndGlyphs" transform="rotate(0.05 420.86 194.20)">39</text>
<text x="438.66" y="183.10" font-size="8.9" fill="#231f20" stroke="#231f20" stroke-width="0.15" textLength="8.51" lengthAdjust="spacingAndGlyphs" transform="rotate(0.05 442.92 183.10)">39</text>
<text x="438.66" y="194.20" font-size="8.9" fill="#231f20" stroke="#231f20" stroke-width="0.15" textLength="8.51" lengthAdjust="spacingAndGlyphs" transform="rotate(0.05 442.92 194.20)">35</text>
<text x="460.72" y="183.10" font-size="8.9" fill="#231f20" stroke="#231f20" stroke-width="0.15" textLength="8.51" lengthAdjust="spacingAndGlyphs" transform="rotate(0.05 464.98 183.10)">33</text>
<text x="460.72" y="194.20" font-size="8.9" fill="#231f20" stroke="#231f20" stroke-width="0.15" textLength="8.51" lengthAdjust="spacingAndGlyphs" transform="rotate(0.05 464.98 194.20)">33</text>
<text x="482.78" y="183.10" font-size="8.9" fill="#231f20" stroke="#231f20" stroke-width="0.15" textLength="8.51" lengthAdjust="spacingAndGlyphs" transform="rotate(0.05 487.04 183.10)">23</text>
<text x="482.78" y="194.20" font-size="8.9" fill="#231f20" stroke="#231f20" stroke-width="0.15" textLength="8.51" lengthAdjust="spacingAndGlyphs" transform="rotate(0.05 487.04 194.20)">26</text>
<text x="504.84" y="183.10" font-size="8.9" fill="#231f20" stroke="#231f20" stroke-width="0.15" textLength="8.51" lengthAdjust="spacingAndGlyphs" transform="rotate(0.05 509.10 183.10)">14</text>
<text x="504.84" y="194.20" font-size="8.9" fill="#231f20" stroke="#231f20" stroke-width="0.15" textLength="8.51" lengthAdjust="spacingAndGlyphs" transform="rotate(0.05 509.10 194.20)">17</text>
<line x1="70.95" y1="235.00" x2="70.95" y2="340.90" stroke="#1a1a1a" stroke-width="1.35"/>
<line x1="68.15" y1="340.40" x2="70.95" y2="340.40" stroke="#1a1a1a" stroke-width="1.0"/>
<text x="64.95" y="342.90" font-size="8.8" fill="#231f20" stroke="#231f20" stroke-width="0.15" text-anchor="end" transform="rotate(0.05 64.95 342.90)">0</text>
<line x1="68.15" y1="319.90" x2="70.95" y2="319.90" stroke="#1a1a1a" stroke-width="1.0"/>
<text x="64.95" y="322.40" font-size="8.8" fill="#231f20" stroke="#231f20" stroke-width="0.15" text-anchor="end" transform="rotate(0.05 64.95 322.40)">0.2</text>
<line x1="68.15" y1="299.40" x2="70.95" y2="299.40" stroke="#1a1a1a" stroke-width="1.0"/>
<text x="64.95" y="301.90" font-size="8.8" fill="#231f20" stroke="#231f20" stroke-width="0.15" text-anchor="end" transform="rotate(0.05 64.95 301.90)">0.4</text>
<line x1="68.15" y1="278.90" x2="70.95" y2="278.90" stroke="#1a1a1a" stroke-width="1.0"/>
<text x="64.95" y="281.40" font-size="8.8" fill="#231f20" stroke="#231f20" stroke-width="0.15" text-anchor="end" transform="rotate(0.05 64.95 281.40)">0.6</text>
<line x1="68.15" y1="258.40" x2="70.95" y2="258.40" stroke="#1a1a1a" stroke-width="1.0"/>
<text x="64.95" y="260.90" font-size="8.8" fill="#231f20" stroke="#231f20" stroke-width="0.15" text-anchor="end" transform="rotate(0.05 64.95 260.90)">0.8</text>
<line x1="68.15" y1="237.90" x2="70.95" y2="237.90" stroke="#1a1a1a" stroke-width="1.0"/>
<text x="64.95" y="240.40" font-size="8.8" fill="#231f20" stroke="#231f20" stroke-width="0.15" text-anchor="end" transform="rotate(0.05 64.95 240.40)">1</text>
<line x1="70.45" y1="340.40" x2="153.55" y2="340.40" stroke="#1a1a1a" stroke-width="1.25"/>
<line x1="70.95" y1="340.40" x2="70.95" y2="343.20" stroke="#1a1a1a" stroke-width="1.0"/>
<text x="68.80" y="353.60" font-size="8.8" fill="#231f20" stroke="#231f20" stroke-width="0.15" textLength="4.31" lengthAdjust="spacingAndGlyphs" transform="rotate(0.05 70.95 353.60)">0</text>
<line x1="97.55" y1="340.40" x2="97.55" y2="343.20" stroke="#1a1a1a" stroke-width="1.0"/>
<text x="95.40" y="353.60" font-size="8.8" fill="#231f20" stroke="#231f20" stroke-width="0.15" textLength="4.31" lengthAdjust="spacingAndGlyphs" transform="rotate(0.05 97.55 353.60)">1</text>
<line x1="124.15" y1="340.40" x2="124.15" y2="343.20" stroke="#1a1a1a" stroke-width="1.0"/>
<text x="122.00" y="353.60" font-size="8.8" fill="#231f20" stroke="#231f20" stroke-width="0.15" textLength="4.31" lengthAdjust="spacingAndGlyphs" transform="rotate(0.05 124.15 353.60)">2</text>
<line x1="150.75" y1="340.40" x2="150.75" y2="343.20" stroke="#1a1a1a" stroke-width="1.0"/>
<text x="148.60" y="353.60" font-size="8.8" fill="#231f20" stroke="#231f20" stroke-width="0.15" textLength="4.31" lengthAdjust="spacingAndGlyphs" transform="rotate(0.05 150.75 353.60)">3</text>
<g transform="translate(47.75,0) rotate(-89.95)"><text x="-320.24" y="0" font-size="9.7" fill="#231f20" stroke="#231f20" stroke-width="0.2" textLength="37.13" lengthAdjust="spacingAndGlyphs">Probability</text><text x="-281.35" y="0" font-size="9.7" fill="#231f20" stroke="#231f20" stroke-width="0.2" textLength="7.34" lengthAdjust="spacingAndGlyphs">of</text><text x="-272.54" y="0" font-size="9.7" fill="#231f20" stroke="#231f20" stroke-width="0.2" textLength="18.31" lengthAdjust="spacingAndGlyphs">NRM</text></g>
<text x="103.27" y="367.50" font-size="9.7" fill="#231f20" stroke="#231f20" stroke-width="0.2" textLength="18.24" lengthAdjust="spacingAndGlyphs" transform="rotate(0.05 112.39 367.50)">Years</text>
<line x1="70.95" y1="408.40" x2="70.95" y2="514.10" stroke="#1a1a1a" stroke-width="1.35"/>
<line x1="68.15" y1="513.60" x2="70.95" y2="513.60" stroke="#1a1a1a" stroke-width="1.0"/>
<text x="64.95" y="516.10" font-size="8.8" fill="#231f20" stroke="#231f20" stroke-width="0.15" text-anchor="end" transform="rotate(0.05 64.95 516.10)">0</text>
<line x1="68.15" y1="493.14" x2="70.95" y2="493.14" stroke="#1a1a1a" stroke-width="1.0"/>
<text x="64.95" y="495.64" font-size="8.8" fill="#231f20" stroke="#231f20" stroke-width="0.15" text-anchor="end" transform="rotate(0.05 64.95 495.64)">0.2</text>
<line x1="68.15" y1="472.68" x2="70.95" y2="472.68" stroke="#1a1a1a" stroke-width="1.0"/>
<text x="64.95" y="475.18" font-size="8.8" fill="#231f20" stroke="#231f20" stroke-width="0.15" text-anchor="end" transform="rotate(0.05 64.95 475.18)">0.4</text>
<line x1="68.15" y1="452.22" x2="70.95" y2="452.22" stroke="#1a1a1a" stroke-width="1.0"/>
<text x="64.95" y="454.72" font-size="8.8" fill="#231f20" stroke="#231f20" stroke-width="0.15" text-anchor="end" transform="rotate(0.05 64.95 454.72)">0.6</text>
<line x1="68.15" y1="431.76" x2="70.95" y2="431.76" stroke="#1a1a1a" stroke-width="1.0"/>
<text x="64.95" y="434.26" font-size="8.8" fill="#231f20" stroke="#231f20" stroke-width="0.15" text-anchor="end" transform="rotate(0.05 64.95 434.26)">0.8</text>
<line x1="68.15" y1="411.30" x2="70.95" y2="411.30" stroke="#1a1a1a" stroke-width="1.0"/>
<text x="64.95" y="413.80" font-size="8.8" fill="#231f20" stroke="#231f20" stroke-width="0.15" text-anchor="end" transform="rotate(0.05 64.95 413.80)">1</text>
<line x1="70.45" y1="513.60" x2="153.55" y2="513.60" stroke="#1a1a1a" stroke-width="1.25"/>
<line x1="70.95" y1="513.60" x2="70.95" y2="516.40" stroke="#1a1a1a" stroke-width="1.0"/>
<text x="68.80" y="526.80" font-size="8.8" fill="#231f20" stroke="#231f20" stroke-width="0.15" textLength="4.31" lengthAdjust="spacingAndGlyphs" transform="rotate(0.05 70.95 526.80)">0</text>
<line x1="97.55" y1="513.60" x2="97.55" y2="516.40" stroke="#1a1a1a" stroke-width="1.0"/>
<text x="95.40" y="526.80" font-size="8.8" fill="#231f20" stroke="#231f20" stroke-width="0.15" textLength="4.31" lengthAdjust="spacingAndGlyphs" transform="rotate(0.05 97.55 526.80)">1</text>
<line x1="124.15" y1="513.60" x2="124.15" y2="516.40" stroke="#1a1a1a" stroke-width="1.0"/>
<text x="122.00" y="526.80" font-size="8.8" fill="#231f20" stroke="#231f20" stroke-width="0.15" textLength="4.31" lengthAdjust="spacingAndGlyphs" transform="rotate(0.05 124.15 526.80)">2</text>
<line x1="150.75" y1="513.60" x2="150.75" y2="516.40" stroke="#1a1a1a" stroke-width="1.0"/>
<text x="148.60" y="526.80" font-size="8.8" fill="#231f20" stroke="#231f20" stroke-width="0.15" textLength="4.31" lengthAdjust="spacingAndGlyphs" transform="rotate(0.05 150.75 526.80)">3</text>
<g transform="translate(47.75,0) rotate(-89.95)"><text x="-497.84" y="0" font-size="9.7" fill="#231f20" stroke="#231f20" stroke-width="0.2" textLength="37.13" lengthAdjust="spacingAndGlyphs">Probability</text><text x="-458.94" y="0" font-size="9.7" fill="#231f20" stroke="#231f20" stroke-width="0.2" textLength="7.13" lengthAdjust="spacingAndGlyphs">of</text><text x="-449.80" y="0" font-size="9.7" fill="#231f20" stroke="#231f20" stroke-width="0.2" textLength="25.14" lengthAdjust="spacingAndGlyphs">relapse</text></g>
<text x="103.27" y="541.00" font-size="9.7" fill="#231f20" stroke="#231f20" stroke-width="0.2" textLength="18.24" lengthAdjust="spacingAndGlyphs" transform="rotate(0.05 112.39 541.00)">Years</text>
<line x1="234.60" y1="235.00" x2="234.60" y2="340.90" stroke="#1a1a1a" stroke-width="1.35"/>
<line x1="231.80" y1="340.40" x2="234.60" y2="340.40" stroke="#1a1a1a" stroke-width="1.0"/>
<text x="228.60" y="342.90" font-size="8.8" fill="#231f20" stroke="#231f20" stroke-width="0.15" text-anchor="end" transform="rotate(0.05 228.60 342.90)">0</text>
<line x1="231.80" y1="319.90" x2="234.60" y2="319.90" stroke="#1a1a1a" stroke-width="1.0"/>
<text x="228.60" y="322.40" font-size="8.8" fill="#231f20" stroke="#231f20" stroke-width="0.15" text-anchor="end" transform="rotate(0.05 228.60 322.40)">0.2</text>
<line x1="231.80" y1="299.40" x2="234.60" y2="299.40" stroke="#1a1a1a" stroke-width="1.0"/>
<text x="228.60" y="301.90" font-size="8.8" fill="#231f20" stroke="#231f20" stroke-width="0.15" text-anchor="end" transform="rotate(0.05 228.60 301.90)">0.4</text>
<line x1="231.80" y1="278.90" x2="234.60" y2="278.90" stroke="#1a1a1a" stroke-width="1.0"/>
<text x="228.60" y="281.40" font-size="8.8" fill="#231f20" stroke="#231f20" stroke-width="0.15" text-anchor="end" transform="rotate(0.05 228.60 281.40)">0.6</text>
<line x1="231.80" y1="258.40" x2="234.60" y2="258.40" stroke="#1a1a1a" stroke-width="1.0"/>
<text x="228.60" y="260.90" font-size="8.8" fill="#231f20" stroke="#231f20" stroke-width="0.15" text-anchor="end" transform="rotate(0.05 228.60 260.90)">0.8</text>
<line x1="231.80" y1="237.90" x2="234.60" y2="237.90" stroke="#1a1a1a" stroke-width="1.0"/>
<text x="228.60" y="240.40" font-size="8.8" fill="#231f20" stroke="#231f20" stroke-width="0.15" text-anchor="end" transform="rotate(0.05 228.60 240.40)">1</text>
<line x1="234.10" y1="340.40" x2="317.20" y2="340.40" stroke="#1a1a1a" stroke-width="1.25"/>
<line x1="234.60" y1="340.40" x2="234.60" y2="343.20" stroke="#1a1a1a" stroke-width="1.0"/>
<text x="232.45" y="353.60" font-size="8.8" fill="#231f20" stroke="#231f20" stroke-width="0.15" textLength="4.31" lengthAdjust="spacingAndGlyphs" transform="rotate(0.05 234.60 353.60)">0</text>
<line x1="261.20" y1="340.40" x2="261.20" y2="343.20" stroke="#1a1a1a" stroke-width="1.0"/>
<text x="259.05" y="353.60" font-size="8.8" fill="#231f20" stroke="#231f20" stroke-width="0.15" textLength="4.31" lengthAdjust="spacingAndGlyphs" transform="rotate(0.05 261.20 353.60)">1</text>
<line x1="287.80" y1="340.40" x2="287.80" y2="343.20" stroke="#1a1a1a" stroke-width="1.0"/>
<text x="285.65" y="353.60" font-size="8.8" fill="#231f20" stroke="#231f20" stroke-width="0.15" textLength="4.31" lengthAdjust="spacingAndGlyphs" transform="rotate(0.05 287.80 353.60)">2</text>
<line x1="314.40" y1="340.40" x2="314.40" y2="343.20" stroke="#1a1a1a" stroke-width="1.0"/>
<text x="312.25" y="353.60" font-size="8.8" fill="#231f20" stroke="#231f20" stroke-width="0.15" textLength="4.31" lengthAdjust="spacingAndGlyphs" transform="rotate(0.05 314.40 353.60)">3</text>
<g transform="translate(211.40,0) rotate(-89.95)"><text x="-320.24" y="0" font-size="9.7" fill="#231f20" stroke="#231f20" stroke-width="0.2" textLength="37.13" lengthAdjust="spacingAndGlyphs">Probability</text><text x="-281.35" y="0" font-size="9.7" fill="#231f20" stroke="#231f20" stroke-width="0.2" textLength="7.34" lengthAdjust="spacingAndGlyphs">of</text><text x="-272.54" y="0" font-size="9.7" fill="#231f20" stroke="#231f20" stroke-width="0.2" textLength="18.31" lengthAdjust="spacingAndGlyphs">NRM</text></g>
<text x="266.92" y="367.50" font-size="9.7" fill="#231f20" stroke="#231f20" stroke-width="0.2" textLength="18.24" lengthAdjust="spacingAndGlyphs" transform="rotate(0.05 276.04 367.50)">Years</text>
<line x1="234.60" y1="408.40" x2="234.60" y2="514.10" stroke="#1a1a1a" stroke-width="1.35"/>
<line x1="231.80" y1="513.60" x2="234.60" y2="513.60" stroke="#1a1a1a" stroke-width="1.0"/>
<text x="228.60" y="516.10" font-size="8.8" fill="#231f20" stroke="#231f20" stroke-width="0.15" text-anchor="end" transform="rotate(0.05 228.60 516.10)">0</text>
<line x1="231.80" y1="493.14" x2="234.60" y2="493.14" stroke="#1a1a1a" stroke-width="1.0"/>
<text x="228.60" y="495.64" font-size="8.8" fill="#231f20" stroke="#231f20" stroke-width="0.15" text-anchor="end" transform="rotate(0.05 228.60 495.64)">0.2</text>
<line x1="231.80" y1="472.68" x2="234.60" y2="472.68" stroke="#1a1a1a" stroke-width="1.0"/>
<text x="228.60" y="475.18" font-size="8.8" fill="#231f20" stroke="#231f20" stroke-width="0.15" text-anchor="end" transform="rotate(0.05 228.60 475.18)">0.4</text>
<line x1="231.80" y1="452.22" x2="234.60" y2="452.22" stroke="#1a1a1a" stroke-width="1.0"/>
<text x="228.60" y="454.72" font-size="8.8" fill="#231f20" stroke="#231f20" stroke-width="0.15" text-anchor="end" transform="rotate(0.05 228.60 454.72)">0.6</text>
<line x1="231.80" y1="431.76" x2="234.60" y2="431.76" stroke="#1a1a1a" stroke-width="1.0"/>
<text x="228.60" y="434.26" font-size="8.8" fill="#231f20" stroke="#231f20" stroke-width="0.15" text-anchor="end" transform="rotate(0.05 228.60 434.26)">0.8</text>
<line x1="231.80" y1="411.30" x2="234.60" y2="411.30" stroke="#1a1a1a" stroke-width="1.0"/>
<text x="228.60" y="413.80" font-size="8.8" fill="#231f20" stroke="#231f20" stroke-width="0.15" text-anchor="end" transform="rotate(0.05 228.60 413.80)">1</text>
<line x1="234.10" y1="513.60" x2="317.20" y2="513.60" stroke="#1a1a1a" stroke-width="1.25"/>
<line x1="234.60" y1="513.60" x2="234.60" y2="516.40" stroke="#1a1a1a" stroke-width="1.0"/>
<text x="232.45" y="526.80" font-size="8.8" fill="#231f20" stroke="#231f20" stroke-width="0.15" textLength="4.31" lengthAdjust="spacingAndGlyphs" transform="rotate(0.05 234.60 526.80)">0</text>
<line x1="261.20" y1="513.60" x2="261.20" y2="516.40" stroke="#1a1a1a" stroke-width="1.0"/>
<text x="259.05" y="526.80" font-size="8.8" fill="#231f20" stroke="#231f20" stroke-width="0.15" textLength="4.31" lengthAdjust="spacingAndGlyphs" transform="rotate(0.05 261.20 526.80)">1</text>
<line x1="287.80" y1="513.60" x2="287.80" y2="516.40" stroke="#1a1a1a" stroke-width="1.0"/>
<text x="285.65" y="526.80" font-size="8.8" fill="#231f20" stroke="#231f20" stroke-width="0.15" textLength="4.31" lengthAdjust="spacingAndGlyphs" transform="rotate(0.05 287.80 526.80)">2</text>
<line x1="314.40" y1="513.60" x2="314.40" y2="516.40" stroke="#1a1a1a" stroke-width="1.0"/>
<text x="312.25" y="526.80" font-size="8.8" fill="#231f20" stroke="#231f20" stroke-width="0.15" textLength="4.31" lengthAdjust="spacingAndGlyphs" transform="rotate(0.05 314.40 526.80)">3</text>
<g transform="translate(211.40,0) rotate(-89.95)"><text x="-497.84" y="0" font-size="9.7" fill="#231f20" stroke="#231f20" stroke-width="0.2" textLength="37.13" lengthAdjust="spacingAndGlyphs">Probability</text><text x="-458.94" y="0" font-size="9.7" fill="#231f20" stroke="#231f20" stroke-width="0.2" textLength="7.13" lengthAdjust="spacingAndGlyphs">of</text><text x="-449.80" y="0" font-size="9.7" fill="#231f20" stroke="#231f20" stroke-width="0.2" textLength="25.14" lengthAdjust="spacingAndGlyphs">relapse</text></g>
<text x="266.92" y="541.00" font-size="9.7" fill="#231f20" stroke="#231f20" stroke-width="0.2" textLength="18.24" lengthAdjust="spacingAndGlyphs" transform="rotate(0.05 276.04 541.00)">Years</text>
<line x1="398.45" y1="235.00" x2="398.45" y2="340.90" stroke="#1a1a1a" stroke-width="1.35"/>
<line x1="395.65" y1="340.40" x2="398.45" y2="340.40" stroke="#1a1a1a" stroke-width="1.0"/>
<text x="392.45" y="342.90" font-size="8.8" fill="#231f20" stroke="#231f20" stroke-width="0.15" text-anchor="end" transform="rotate(0.05 392.45 342.90)">0</text>
<line x1="395.65" y1="319.90" x2="398.45" y2="319.90" stroke="#1a1a1a" stroke-width="1.0"/>
<text x="392.45" y="322.40" font-size="8.8" fill="#231f20" stroke="#231f20" stroke-width="0.15" text-anchor="end" transform="rotate(0.05 392.45 322.40)">0.2</text>
<line x1="395.65" y1="299.40" x2="398.45" y2="299.40" stroke="#1a1a1a" stroke-width="1.0"/>
<text x="392.45" y="301.90" font-size="8.8" fill="#231f20" stroke="#231f20" stroke-width="0.15" text-anchor="end" transform="rotate(0.05 392.45 301.90)">0.4</text>
<line x1="395.65" y1="278.90" x2="398.45" y2="278.90" stroke="#1a1a1a" stroke-width="1.0"/>
<text x="392.45" y="281.40" font-size="8.8" fill="#231f20" stroke="#231f20" stroke-width="0.15" text-anchor="end" transform="rotate(0.05 392.45 281.40)">0.6</text>
<line x1="395.65" y1="258.40" x2="398.45" y2="258.40" stroke="#1a1a1a" stroke-width="1.0"/>
<text x="392.45" y="260.90" font-size="8.8" fill="#231f20" stroke="#231f20" stroke-width="0.15" text-anchor="end" transform="rotate(0.05 392.45 260.90)">0.8</text>
<line x1="395.65" y1="237.90" x2="398.45" y2="237.90" stroke="#1a1a1a" stroke-width="1.0"/>
<text x="392.45" y="240.40" font-size="8.8" fill="#231f20" stroke="#231f20" stroke-width="0.15" text-anchor="end" transform="rotate(0.05 392.45 240.40)">1</text>
<line x1="397.95" y1="340.40" x2="481.05" y2="340.40" stroke="#1a1a1a" stroke-width="1.25"/>
<line x1="398.45" y1="340.40" x2="398.45" y2="343.20" stroke="#1a1a1a" stroke-width="1.0"/>
<text x="396.30" y="353.60" font-size="8.8" fill="#231f20" stroke="#231f20" stroke-width="0.15" textLength="4.31" lengthAdjust="spacingAndGlyphs" transform="rotate(0.05 398.45 353.60)">0</text>
<line x1="425.05" y1="340.40" x2="425.05" y2="343.20" stroke="#1a1a1a" stroke-width="1.0"/>
<text x="422.90" y="353.60" font-size="8.8" fill="#231f20" stroke="#231f20" stroke-width="0.15" textLength="4.31" lengthAdjust="spacingAndGlyphs" transform="rotate(0.05 425.05 353.60)">1</text>
<line x1="451.65" y1="340.40" x2="451.65" y2="343.20" stroke="#1a1a1a" stroke-width="1.0"/>
<text x="449.50" y="353.60" font-size="8.8" fill="#231f20" stroke="#231f20" stroke-width="0.15" textLength="4.31" lengthAdjust="spacingAndGlyphs" transform="rotate(0.05 451.65 353.60)">2</text>
<line x1="478.25" y1="340.40" x2="478.25" y2="343.20" stroke="#1a1a1a" stroke-width="1.0"/>
<text x="476.10" y="353.60" font-size="8.8" fill="#231f20" stroke="#231f20" stroke-width="0.15" textLength="4.31" lengthAdjust="spacingAndGlyphs" transform="rotate(0.05 478.25 353.60)">3</text>
<g transform="translate(375.25,0) rotate(-89.95)"><text x="-320.24" y="0" font-size="9.7" fill="#231f20" stroke="#231f20" stroke-width="0.2" textLength="37.13" lengthAdjust="spacingAndGlyphs">Probability</text><text x="-281.35" y="0" font-size="9.7" fill="#231f20" stroke="#231f20" stroke-width="0.2" textLength="7.34" lengthAdjust="spacingAndGlyphs">of</text><text x="-272.54" y="0" font-size="9.7" fill="#231f20" stroke="#231f20" stroke-width="0.2" textLength="18.31" lengthAdjust="spacingAndGlyphs">NRM</text></g>
<text x="430.77" y="367.50" font-size="9.7" fill="#231f20" stroke="#231f20" stroke-width="0.2" textLength="18.24" lengthAdjust="spacingAndGlyphs" transform="rotate(0.05 439.89 367.50)">Years</text>
<line x1="398.45" y1="408.40" x2="398.45" y2="514.10" stroke="#1a1a1a" stroke-width="1.35"/>
<line x1="395.65" y1="513.60" x2="398.45" y2="513.60" stroke="#1a1a1a" stroke-width="1.0"/>
<text x="392.45" y="516.10" font-size="8.8" fill="#231f20" stroke="#231f20" stroke-width="0.15" text-anchor="end" transform="rotate(0.05 392.45 516.10)">0</text>
<line x1="395.65" y1="493.14" x2="398.45" y2="493.14" stroke="#1a1a1a" stroke-width="1.0"/>
<text x="392.45" y="495.64" font-size="8.8" fill="#231f20" stroke="#231f20" stroke-width="0.15" text-anchor="end" transform="rotate(0.05 392.45 495.64)">0.2</text>
<line x1="395.65" y1="472.68" x2="398.45" y2="472.68" stroke="#1a1a1a" stroke-width="1.0"/>
<text x="392.45" y="475.18" font-size="8.8" fill="#231f20" stroke="#231f20" stroke-width="0.15" text-anchor="end" transform="rotate(0.05 392.45 475.18)">0.4</text>
<line x1="395.65" y1="452.22" x2="398.45" y2="452.22" stroke="#1a1a1a" stroke-width="1.0"/>
<text x="392.45" y="454.72" font-size="8.8" fill="#231f20" stroke="#231f20" stroke-width="0.15" text-anchor="end" transform="rotate(0.05 392.45 454.72)">0.6</text>
<line x1="395.65" y1="431.76" x2="398.45" y2="431.76" stroke="#1a1a1a" stroke-width="1.0"/>
<text x="392.45" y="434.26" font-size="8.8" fill="#231f20" stroke="#231f20" stroke-width="0.15" text-anchor="end" transform="rotate(0.05 392.45 434.26)">0.8</text>
<line x1="395.65" y1="411.30" x2="398.45" y2="411.30" stroke="#1a1a1a" stroke-width="1.0"/>
<text x="392.45" y="413.80" font-size="8.8" fill="#231f20" stroke="#231f20" stroke-width="0.15" text-anchor="end" transform="rotate(0.05 392.45 413.80)">1</text>
<line x1="397.95" y1="513.60" x2="481.05" y2="513.60" stroke="#1a1a1a" stroke-width="1.25"/>
<line x1="398.45" y1="513.60" x2="398.45" y2="516.40" stroke="#1a1a1a" stroke-width="1.0"/>
<text x="396.30" y="526.80" font-size="8.8" fill="#231f20" stroke="#231f20" stroke-width="0.15" textLength="4.31" lengthAdjust="spacingAndGlyphs" transform="rotate(0.05 398.45 526.80)">0</text>
<line x1="425.05" y1="513.60" x2="425.05" y2="516.40" stroke="#1a1a1a" stroke-width="1.0"/>
<text x="422.90" y="526.80" font-size="8.8" fill="#231f20" stroke="#231f20" stroke-width="0.15" textLength="4.31" lengthAdjust="spacingAndGlyphs" transform="rotate(0.05 425.05 526.80)">1</text>
<line x1="451.65" y1="513.60" x2="451.65" y2="516.40" stroke="#1a1a1a" stroke-width="1.0"/>
<text x="449.50" y="526.80" font-size="8.8" fill="#231f20" stroke="#231f20" stroke-width="0.15" textLength="4.31" lengthAdjust="spacingAndGlyphs" transform="rotate(0.05 451.65 526.80)">2</text>
<line x1="478.25" y1="513.60" x2="478.25" y2="516.40" stroke="#1a1a1a" stroke-width="1.0"/>
<text x="476.10" y="526.80" font-size="8.8" fill="#231f20" stroke="#231f20" stroke-width="0.15" textLength="4.31" lengthAdjust="spacingAndGlyphs" transform="rotate(0.05 478.25 526.80)">3</text>
<g transform="translate(375.25,0) rotate(-89.95)"><text x="-497.84" y="0" font-size="9.7" fill="#231f20" stroke="#231f20" stroke-width="0.2" textLength="37.13" lengthAdjust="spacingAndGlyphs">Probability</text><text x="-458.94" y="0" font-size="9.7" fill="#231f20" stroke="#231f20" stroke-width="0.2" textLength="7.13" lengthAdjust="spacingAndGlyphs">of</text><text x="-449.80" y="0" font-size="9.7" fill="#231f20" stroke="#231f20" stroke-width="0.2" textLength="25.14" lengthAdjust="spacingAndGlyphs">relapse</text></g>
<text x="430.77" y="541.00" font-size="9.7" fill="#231f20" stroke="#231f20" stroke-width="0.2" textLength="18.24" lengthAdjust="spacingAndGlyphs" transform="rotate(0.05 439.89 541.00)">Years</text>
<text x="111.65" y="280.80" font-size="8.5" fill="#a80e36" textLength="26.90" lengthAdjust="spacingAndGlyphs" transform="rotate(0.05 125.10 280.80)">Flu-Mel</text>
<text x="118.85" y="328.20" font-size="8.5" fill="#a80e36" textLength="34.83" lengthAdjust="spacingAndGlyphs" transform="rotate(0.05 136.27 328.20)">Other RIC</text>
<text x="115.17" y="337.70" font-size="8.4" fill="#231f20" stroke="#231f20" stroke-width="0.15" textLength="33.73" lengthAdjust="spacingAndGlyphs" transform="rotate(0.05 132.04 337.70)">P = 0.002</text>
<text x="272.14" y="297.80" font-size="8.5" fill="#55a834" textLength="27.42" lengthAdjust="spacingAndGlyphs" transform="rotate(0.05 285.85 297.80)">Flu-Mel</text>
<text x="275.75" y="325.50" font-size="8.5" fill="#55a834" textLength="34.62" lengthAdjust="spacingAndGlyphs" transform="rotate(0.05 293.07 325.50)">Other RIC</text>
<text x="278.56" y="338.00" font-size="8.4" fill="#231f20" stroke="#231f20" stroke-width="0.15" textLength="29.76" lengthAdjust="spacingAndGlyphs" transform="rotate(0.05 293.44 338.00)">P = 0.15</text>
<text x="440.76" y="300.50" font-size="8.5" fill="#1f3f86" textLength="26.79" lengthAdjust="spacingAndGlyphs" transform="rotate(0.05 454.15 300.50)">Flu-Mel</text>
<text x="450.15" y="328.70" font-size="8.5" fill="#1f3f86" textLength="35.03" lengthAdjust="spacingAndGlyphs" transform="rotate(0.05 467.67 328.70)">Other RIC</text>
<text x="442.16" y="337.80" font-size="8.4" fill="#231f20" stroke="#231f20" stroke-width="0.15" textLength="29.86" lengthAdjust="spacingAndGlyphs" transform="rotate(0.05 457.09 337.80)">P = 0.15</text>
<path d="M71.0,340.3 L73.7,336.6 L76.6,332.9 L79.5,329.3 L81.7,326.4 L85.3,324.9 L88.2,323.5 L90.0,323.5 L92.6,322.7 L94.6,320.8 L97.7,320.0 L103.8,319.2 L122.3,318.9 L126.2,316.2 L137.7,315.4 L140.8,314.6 L143.8,313.8 L146.2,312.3 L149.2,311.5 L151.5,311.2" fill="none" stroke="#a80e36" stroke-width="1.4" stroke-linejoin="round"/>
<path d="M71.0,340.3 L72.2,332.2 L73.7,329.3 L75.1,327.8 L76.6,319.1 L77.3,308.9 L78.0,300.9 L80.9,300.5 L83.8,300.2 L86.0,298.0 L89.7,295.8 L90.0,294.6 L93.1,292.3 L99.2,292.3 L102.3,291.5 L104.6,290.0 L108.5,289.7 L110.8,288.5 L112.3,288.0 L151.5,288.0" fill="none" stroke="#a80e36" stroke-width="1.4" stroke-linejoin="round" stroke-dasharray="3.9 1.55"/>
<path d="M234.9,340.5 L240.0,334.6 L244.6,329.2 L250.8,322.3 L256.9,317.7 L261.5,316.2 L266.2,315.4 L273.8,313.8 L276.4,313.4 L282.7,312.9 L289.1,311.6 L295.5,311.2 L303.1,310.6 L314.6,310.3" fill="none" stroke="#55a834" stroke-width="1.4" stroke-linejoin="round"/>
<path d="M234.9,340.5 L236.9,334.6 L239.2,328.5 L243.0,322.3 L246.2,320.0 L248.5,319.2 L250.8,314.6 L253.8,310.0 L257.7,307.2 L263.1,306.9 L270.0,306.8 L277.6,306.1 L282.7,305.5 L287.8,304.0 L290.4,303.6 L313.3,303.6" fill="none" stroke="#55a834" stroke-width="1.4" stroke-linejoin="round" stroke-dasharray="3.9 1.55"/>
<path d="M398.8,340.3 L400.8,337.9 L402.8,333.8 L404.8,330.5 L407.5,329.5 L411.5,329.1 L414.2,327.8 L418.3,325.5 L425.0,324.4 L430.0,324.0 L432.7,322.7 L438.1,321.1 L443.5,320.3 L450.2,318.6 L463.6,318.0 L465.0,316.9 L478.5,316.9" fill="none" stroke="#1f3f86" stroke-width="1.4" stroke-linejoin="round"/>
<path d="M398.8,340.3 L401.4,336.5 L403.5,331.1 L406.2,324.4 L408.8,320.4 L411.5,315.7 L414.9,313.6 L418.3,312.0 L422.3,311.2 L430.4,310.3 L439.4,309.6 L442.1,307.9 L461.0,307.9 L463.0,306.1 L477.8,306.1" fill="none" stroke="#1f3f86" stroke-width="1.4" stroke-linejoin="round" stroke-dasharray="3.9 1.55"/>
<text x="118.85" y="467.80" font-size="8.5" fill="#a80e36" textLength="34.93" lengthAdjust="spacingAndGlyphs" transform="rotate(0.05 136.32 467.80)">Other RIC</text>
<text x="123.96" y="503.60" font-size="8.5" fill="#a80e36" textLength="26.59" lengthAdjust="spacingAndGlyphs" transform="rotate(0.05 137.25 503.60)">Flu-Mel</text>
<text x="113.88" y="510.60" font-size="8.4" fill="#231f20" stroke="#231f20" stroke-width="0.15" textLength="33.34" lengthAdjust="spacingAndGlyphs" transform="rotate(0.05 130.55 510.60)">P = 0.008</text>
<text x="276.65" y="463.90" font-size="8.5" fill="#55a834" textLength="34.62" lengthAdjust="spacingAndGlyphs" transform="rotate(0.05 293.97 463.90)">Other RIC</text>
<text x="289.27" y="498.20" font-size="8.5" fill="#55a834" textLength="26.38" lengthAdjust="spacingAndGlyphs" transform="rotate(0.05 302.46 498.20)">Flu-Mel</text>
<text x="277.68" y="510.80" font-size="8.4" fill="#231f20" stroke="#231f20" stroke-width="0.15" textLength="33.07" lengthAdjust="spacingAndGlyphs" transform="rotate(0.05 294.22 510.80)">P &lt; 0.001</text>
<text x="425.95" y="467.20" font-size="8.5" fill="#1f3f86" textLength="34.62" lengthAdjust="spacingAndGlyphs" transform="rotate(0.05 443.27 467.20)">Other RIC</text>
<text x="442.55" y="503.20" font-size="8.5" fill="#1f3f86" textLength="27.00" lengthAdjust="spacingAndGlyphs" transform="rotate(0.05 456.05 503.20)">Flu-Mel</text>
<text x="441.17" y="511.00" font-size="8.4" fill="#231f20" stroke="#231f20" stroke-width="0.15" textLength="33.59" lengthAdjust="spacingAndGlyphs" transform="rotate(0.05 457.97 511.00)">P = 0.001</text>
<path d="M72.6,513.6 L72.6,509.2 L73.9,507.6 L76.4,506.5 L77.8,501.8 L79.1,497.8 L81.8,495.8 L83.2,494.4 L84.5,483.6 L85.9,482.3 L87.9,480.3 L89.9,478.9 L93.3,478.9 L95.3,477.6 L100.0,477.8 L115.9,478.0 L116.6,476.2 L121.9,475.8 L122.6,474.6 L128.6,474.2 L129.7,473.1 L138.1,472.9 L138.8,471.8 L150.9,471.6" fill="none" stroke="#a80e36" stroke-width="1.4" stroke-linejoin="round"/>
<path d="M76.2,513.6 L76.4,509.2 L79.1,507.9 L81.8,507.2 L83.8,503.8 L86.5,503.2 L90.6,502.8 L93.3,500.9 L95.9,497.8 L97.0,497.1 L120.6,497.1 L122.0,494.6 L150.9,494.6" fill="none" stroke="#a80e36" stroke-width="1.4" stroke-linejoin="round" stroke-dasharray="3.9 1.55"/>
<path d="M235.1,513.6 L237.8,507.9 L239.8,503.2 L241.8,494.4 L242.5,491.0 L244.5,489.0 L245.9,485.7 L247.2,483.0 L247.9,476.9 L249.9,476.2 L251.9,474.9 L254.6,474.2 L256.6,472.9 L261.3,470.5 L270.0,470.4 L279.4,470.1 L287.5,468.8 L296.9,467.9 L310.4,467.2 L314.4,467.1" fill="none" stroke="#55a834" stroke-width="1.4" stroke-linejoin="round"/>
<path d="M235.8,513.6 L238.5,510.6 L242.5,507.9 L246.5,505.2 L248.6,501.1 L249.9,499.1 L253.9,495.8 L258.0,492.8 L265.4,492.4 L271.3,491.5 L278.1,491.5 L282.1,489.0 L290.2,488.0 L301.0,487.4 L305.0,486.1 L314.4,486.1" fill="none" stroke="#55a834" stroke-width="1.4" stroke-linejoin="round" stroke-dasharray="3.9 1.55"/>
<path d="M398.8,513.6 L400.8,513.3 L402.8,506.5 L404.1,502.5 L406.2,497.8 L408.8,493.7 L410.9,492.8 L411.5,483.6 L415.6,483.0 L416.9,476.9 L422.3,476.6 L425.0,474.9 L429.0,474.0 L450.2,474.2 L451.5,472.6 L456.9,471.3 L470.4,471.3 L471.7,468.8 L474.4,468.2 L478.5,468.2" fill="none" stroke="#1f3f86" stroke-width="1.4" stroke-linejoin="round"/>
<path d="M398.8,513.4 L403.5,513.3 L404.8,512.2 L410.9,511.9 L411.5,501.8 L414.9,500.5 L416.9,498.5 L425.0,497.1 L429.0,494.7 L476.4,494.7" fill="none" stroke="#1f3f86" stroke-width="1.4" stroke-linejoin="round" stroke-dasharray="3.9 1.55"/>
<rect x="0.5" y="0.5" width="519" height="549" fill="none" stroke="#000" stroke-width="1"/>
</svg>
</body></html>
